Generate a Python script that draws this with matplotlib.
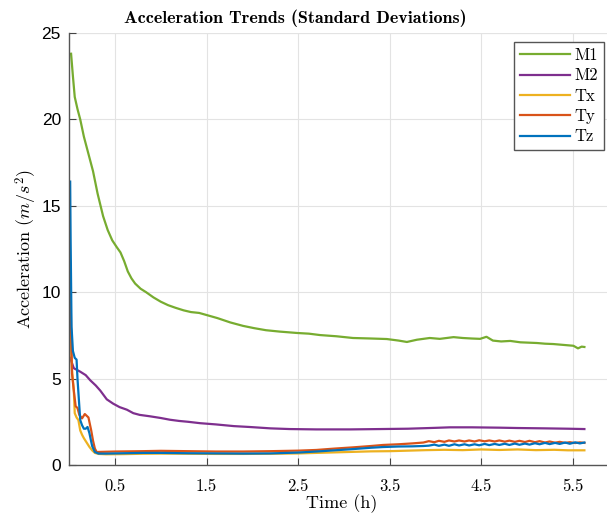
import matplotlib
matplotlib.use("Agg")
import matplotlib.pyplot as plt

plt.rcParams['mathtext.fontset'] = 'cm'
plt.rcParams['axes.formatter.use_mathtext'] = True

# colours (MATLAB default order)
c_m1 = '#77AC30'
c_m2 = '#7E2F8E'
c_tx = '#EDB120'
c_ty = '#D95319'
c_tz = '#0072BD'

# M1
t_m1 = [0.02, 0.04, 0.06, 0.09, 0.12, 0.16, 0.20, 0.26, 0.31, 0.37, 0.42, 0.47, 0.52, 0.56, 0.60,
        0.64, 0.68, 0.72, 0.78, 0.84, 0.92, 1.00, 1.08, 1.16, 1.25, 1.33, 1.42, 1.50, 1.62, 1.76,
        1.90, 2.02, 2.15, 2.30, 2.49, 2.62, 2.74, 2.92, 3.10, 3.30, 3.47, 3.60, 3.69, 3.80, 3.94,
        4.05, 4.20, 4.30, 4.40, 4.49, 4.56, 4.63, 4.72, 4.82, 4.93, 5.02, 5.11, 5.20, 5.29, 5.40,
        5.51, 5.56, 5.60, 5.63]
v_m1 = [23.8, 22.5, 21.3, 20.6, 20.0, 19.0, 18.2, 17.0, 15.7, 14.4, 13.6, 13.0, 12.6, 12.3, 11.8,
        11.2, 10.8, 10.5, 10.2, 10.0, 9.7, 9.45, 9.25, 9.1, 8.95, 8.85, 8.8, 8.68, 8.5, 8.25,
        8.05, 7.92, 7.8, 7.72, 7.64, 7.6, 7.52, 7.45, 7.35, 7.32, 7.29, 7.2, 7.12, 7.25, 7.35,
        7.3, 7.4, 7.35, 7.32, 7.3, 7.42, 7.2, 7.15, 7.18, 7.1, 7.08, 7.06, 7.02, 7.0, 6.95,
        6.9, 6.75, 6.85, 6.83]

# M2
t_m2 = [0.01, 0.05, 0.12, 0.18, 0.23, 0.29, 0.34, 0.41, 0.48, 0.55, 0.63, 0.70, 0.77, 0.88, 1.00,
        1.10, 1.20, 1.30, 1.43, 1.60, 1.80, 1.97, 2.20, 2.41, 2.70, 3.07, 3.40, 3.70, 4.00, 4.16,
        4.40, 4.70, 4.90, 5.20, 5.45, 5.63]
v_m2 = [6.2, 5.6, 5.4, 5.2, 4.9, 4.6, 4.3, 3.8, 3.55, 3.35, 3.2, 3.0, 2.9, 2.82, 2.72,
        2.62, 2.55, 2.5, 2.42, 2.35, 2.25, 2.2, 2.12, 2.08, 2.06, 2.06, 2.08, 2.1, 2.15, 2.18,
        2.18, 2.16, 2.14, 2.12, 2.1, 2.08]

# Tx
t_tx = [0.01, 0.03, 0.05, 0.06, 0.08, 0.10, 0.12, 0.14, 0.16, 0.19, 0.22, 0.25, 0.28, 0.32, 0.40,
        0.60, 0.80, 1.00, 1.30, 1.60, 1.90, 2.20, 2.50, 2.70, 2.90, 3.10, 3.30, 3.50, 3.70, 3.90,
        4.10, 4.30, 4.50, 4.70, 4.90, 5.10, 5.30, 5.45, 5.63]
v_tx = [8.2, 5.5, 4.3, 3.0, 2.75, 2.6, 2.0, 1.75, 1.55, 1.3, 1.05, 0.85, 0.7, 0.64, 0.62,
        0.63, 0.65, 0.66, 0.65, 0.64, 0.64, 0.65, 0.67, 0.7, 0.73, 0.76, 0.79, 0.8, 0.83, 0.86,
        0.88, 0.86, 0.9, 0.87, 0.9, 0.86, 0.88, 0.85, 0.85]

# Ty
t_ty = [0.01, 0.02, 0.03, 0.05, 0.07, 0.09, 0.11, 0.14, 0.17, 0.21, 0.24, 0.26, 0.28, 0.30, 0.35,
        0.50, 0.80, 1.00, 1.30, 1.60, 1.90, 2.20, 2.50, 2.70, 2.90, 3.10, 3.30, 3.43, 3.60, 3.75,
        3.87, 3.93, 3.99, 4.04, 4.10, 4.15, 4.21, 4.26, 4.32, 4.37, 4.43, 4.48, 4.54, 4.59, 4.65,
        4.70, 4.76, 4.81, 4.87, 4.92, 4.98, 5.03, 5.09, 5.14, 5.20, 5.25, 5.31, 5.36, 5.42, 5.47,
        5.53, 5.58, 5.63]
v_ty = [11.8, 8.0, 5.3, 4.3, 3.4, 3.3, 2.9, 2.7, 2.95, 2.75, 2.0, 1.4, 0.95, 0.75, 0.76,
        0.78, 0.8, 0.82, 0.8, 0.78, 0.78, 0.8, 0.83, 0.87, 0.95, 1.02, 1.1, 1.16, 1.2, 1.25,
        1.3, 1.38, 1.32, 1.40, 1.34, 1.42, 1.36, 1.42, 1.36, 1.42, 1.36, 1.43, 1.37, 1.42, 1.36,
        1.42, 1.35, 1.41, 1.34, 1.40, 1.33, 1.40, 1.32, 1.38, 1.30, 1.36, 1.29, 1.34, 1.28, 1.32,
        1.27, 1.31, 1.28]

# Tz
t_tz = [0.01, 0.015, 0.025, 0.04, 0.06, 0.08, 0.09, 0.10, 0.12, 0.14, 0.16, 0.18, 0.20, 0.22, 0.25,
        0.28, 0.32, 0.40, 0.60, 0.80, 1.00, 1.30, 1.60, 1.90, 2.20, 2.50, 2.70, 2.90, 3.10, 3.30,
        3.43, 3.60, 3.75, 3.87, 3.93, 3.99, 4.04, 4.10, 4.15, 4.21, 4.26, 4.32, 4.37, 4.43, 4.48,
        4.54, 4.59, 4.65, 4.70, 4.76, 4.81, 4.87, 4.92, 4.98, 5.03, 5.09, 5.14, 5.20, 5.25, 5.31,
        5.36, 5.42, 5.47, 5.53, 5.58, 5.63]
v_tz = [16.4, 13.0, 8.0, 6.6, 6.2, 6.1, 5.0, 4.2, 2.6, 2.3, 2.1, 2.1, 2.2, 1.85, 1.1,
        0.75, 0.66, 0.66, 0.68, 0.7, 0.7, 0.68, 0.67, 0.66, 0.67, 0.72, 0.78, 0.85, 0.92, 1.0,
        1.04, 1.07, 1.08, 1.1, 1.12, 1.18, 1.11, 1.18, 1.11, 1.20, 1.13, 1.20, 1.13, 1.20, 1.14,
        1.22, 1.15, 1.22, 1.16, 1.23, 1.16, 1.24, 1.17, 1.24, 1.18, 1.26, 1.20, 1.28, 1.21, 1.28,
        1.22, 1.30, 1.23, 1.31, 1.25, 1.30]

x_ticks = [0.5, 1.5, 2.5, 3.5, 4.5, 5.5]
x_labels = ['0.5', '1.5', '2.5', '3.5', '4.5', '5.5']
y_ticks = [0, 5, 10, 15, 20, 25]

fig = plt.figure(figsize=(6.07, 5.15), dpi=100)
ax = fig.add_axes([69.25 / 607, 1 - 465 / 515, 5.95 * 91.5 / 607, 432 / 515])

lw = 1.6
ax.plot(t_m1, v_m1, color=c_m1, lw=lw, label='M1')
ax.plot(t_m2, v_m2, color=c_m2, lw=lw, label='M2')
ax.plot(t_tx, v_tx, color=c_tx, lw=lw, label='Tx')
ax.plot(t_ty, v_ty, color=c_ty, lw=lw, label='Ty')
ax.plot(t_tz, v_tz, color=c_tz, lw=lw, label='Tz')

ax.set_xlim(0, 5.95)
ax.set_ylim(0, 25)
ax.set_xticks(x_ticks)
ax.set_xticklabels(x_labels, family='cmr10', fontsize=12)
ax.set_yticks(y_ticks)
ax.set_yticklabels([str(v) for v in y_ticks], family='Liberation Sans', fontsize=12.5)
ax.tick_params(direction='in', length=5, color='#444444')
ax.tick_params(axis='x', pad=10)
ax.tick_params(axis='y', pad=6)

ax.grid(True, color='#e3e3e3', lw=0.8)
ax.set_axisbelow(True)
for s in ['top', 'right']:
    ax.spines[s].set_visible(False)
for s in ['left', 'bottom']:
    ax.spines[s].set_color('#555555')
    ax.spines[s].set_linewidth(1.0)
# top grid line at 25 acts as upper border
ax.axhline(25, color='#e3e3e3', lw=1.5, zorder=0)

ax.set_xlabel('Time (h)', family='cmr10', fontsize=13, labelpad=0)
ax.set_ylabel(r'Acceleration $(m/s^2)$', family='cmr10', fontsize=13, labelpad=2)

fig.text(295 / 607, 1 - 18 / 515, 'Acceleration Trends (Standard Deviations)',
         family='cmb10', fontsize=13, ha='center', va='center')

leg = ax.legend(loc='upper right', bbox_to_anchor=(604 / 607, 1 - 42 / 515),
                bbox_transform=fig.transFigure, borderaxespad=0, fancybox=False,
                framealpha=1, edgecolor='#555555', prop={'family': 'cmr10', 'size': 12},
                handlelength=3.0, handletextpad=0.3, labelspacing=0.3,
                borderpad=0.35)
leg.get_frame().set_linewidth(1.0)

fig.savefig('out.png', dpi=100)
